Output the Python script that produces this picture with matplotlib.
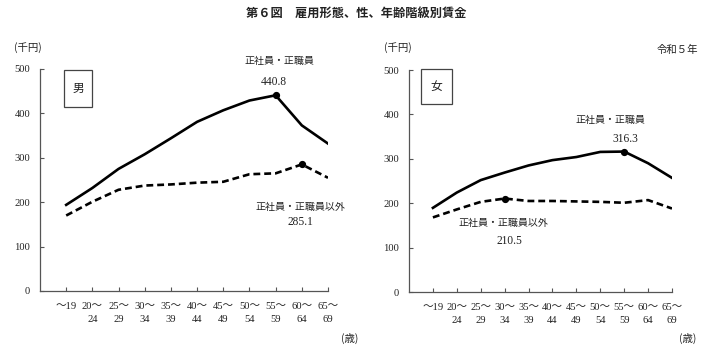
import matplotlib
matplotlib.use("Agg")
import matplotlib.pyplot as plt
from matplotlib.patches import Rectangle

JP = ["Noto Sans CJK JP", "DejaVu Sans"]
NUM = ["Liberation Serif", "Noto Sans CJK JP"]
INK = "#222222"

ages = ["～19", "20～\n24", "25～\n29", "30～\n34", "35～\n39", "40～\n44",
        "45～\n49", "50～\n54", "55～\n59", "60～\n64", "65～\n69"]

# 賃金（千円）
male_regular = [194.0, 232.0, 275.0, 308.0, 344.0, 381.0, 407.0, 429.0, 440.8, 373.0, 332.0]
male_nonregular = [170.0, 201.0, 228.0, 237.5, 240.0, 244.0, 246.0, 263.0, 265.0, 285.1, 255.0]
female_regular = [189.5, 224.0, 252.0, 269.0, 285.0, 297.0, 304.0, 315.5, 316.3, 290.0, 257.0]
female_nonregular = [168.0, 186.0, 203.0, 210.5, 205.0, 205.0, 204.0, 203.0, 201.0, 207.0, 188.0]

yticks = [0, 100, 200, 300, 400, 500]

fig = plt.figure(figsize=(7.12, 3.46), dpi=100)
fig.text(0.5, 0.962, "第６図　雇用形態、性、年齢階級別賃金", ha="center", va="center",
         fontsize=8.8, fontweight="bold", family=JP, color=INK)


def panel(rect, sex, regular, nonregular, peak_reg, peak_non, labels, box):
    ax = fig.add_axes(rect)
    x = range(len(ages))
    ax.plot(x, regular, color="black", lw=1.9)
    ax.plot(x, nonregular, color="black", lw=1.9, ls=(0, (2.6, 1.5)))
    ax.plot(peak_reg, regular[peak_reg], "o", color="black", ms=4.2)
    ax.plot(peak_non, nonregular[peak_non], "o", color="black", ms=4.2)

    ax.set_xlim(-1, len(ages) - 1)
    ax.set_ylim(0, 500)
    ax.set_yticks(yticks)
    ax.set_xticks(list(x))
    ax.set_xticklabels(ages, family=NUM, fontsize=7.6, color=INK, linespacing=1.55)
    ax.set_yticklabels([str(v) for v in yticks], family=NUM, fontsize=7.6, color=INK)
    ax.tick_params(axis="x", direction="in", length=3, width=0.8, color="#555555", pad=8)
    ax.tick_params(axis="y", direction="in", length=3, width=0.8, color="#555555", pad=7)
    for s in ("top", "right"):
        ax.spines[s].set_visible(False)
    for s in ("left", "bottom"):
        ax.spines[s].set_color("#555555")
        ax.spines[s].set_linewidth(0.9)

    # 男/女 box
    ax.add_patch(Rectangle((box[0], box[1]), box[2], box[3], transform=ax.transAxes,
                           fill=False, ec="#444444", lw=0.9, clip_on=False))
    ax.text(box[0] + box[2] / 2, box[1] + box[3] / 2, sex, transform=ax.transAxes,
            ha="center", va="center", family=JP, fontsize=8.5, color=INK)

    for (tx, ty), text, is_num in labels:
        ax.text(tx, ty, text, ha="center", va="center",
                family=NUM if is_num else JP,
                fontsize=8.3 if is_num else 7.2, color=INK)
    return ax


# 男
panel([40 / 712, 1 - 291 / 346, 288 / 712, 222 / 346], "男",
      male_regular, male_nonregular, 8, 9,
      [((8.13, 517), "正社員・正職員", False),
       ((7.94, 471), f"{male_regular[8]:.1f}", True),
       ((8.93, 190), "正社員・正職員以外", False),
       ((8.93, 156), f"{male_nonregular[9]:.1f}", True)],
      (0.082, 0.83, 0.1, 0.165))

# 女
panel([409 / 712, 1 - 292 / 346, 263 / 712, 222 / 346], "女",
      female_regular, female_nonregular, 8, 3,
      [((7.43, 387), "正社員・正職員", False),
       ((8.06, 344), f"{female_regular[8]:.1f}", True),
       ((2.96, 155), "正社員・正職員以外", False),
       ((3.2, 114), f"{female_nonregular[3]:.1f}", True)],
      (0.045, 0.845, 0.12, 0.16))

fig.text(28 / 712, 1 - 48 / 346, "(千円)", ha="center", va="center", family=JP,
         fontsize=7.5, color=INK)
fig.text(398 / 712, 1 - 48 / 346, "(千円)", ha="center", va="center", family=JP,
         fontsize=7.5, color=INK)
fig.text(677 / 712, 1 - 50 / 346, "令和５年", ha="center", va="center", family=JP,
         fontsize=7.5, color=INK)
fig.text(350 / 712, 1 - 338 / 346, "(歳)", ha="center", va="center", family=JP,
         fontsize=7.5, color=INK)
fig.text(688 / 712, 1 - 338 / 346, "(歳)", ha="center", va="center", family=JP,
         fontsize=7.5, color=INK)

fig.savefig("out.png", dpi=100)
